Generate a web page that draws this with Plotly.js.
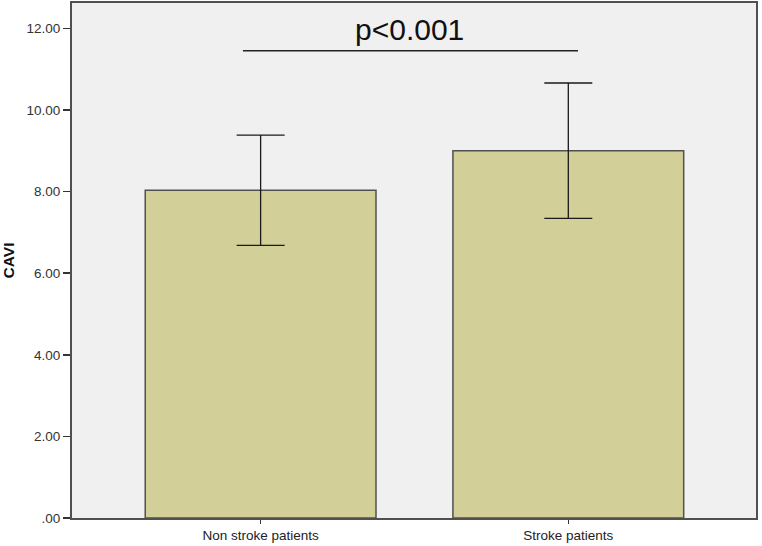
<!DOCTYPE html>
<html>
<head>
<meta charset="utf-8">
<script src="https://cdn.plot.ly/plotly-3.0.1.min.js"></script>
<style>html,body{margin:0;padding:0;background:#fff}#chart{width:762px;height:546px}</style>
</head>
<body>
<div id="chart"></div>
<script>
const categories = ["Non stroke patients", "Stroke patients"];
const meanCAVI = [8.03, 9.00];
const errCAVI = [1.35, 1.66];
const yTickVals = [0, 2, 4, 6, 8, 10, 12];
const yTickText = [".00", "2.00", "4.00", "6.00", "8.00", "10.00", "12.00"];
const pLabel = "p<0.001";

const trace = {
  type: "bar",
  x: [0, 1],
  y: meanCAVI,
  width: 0.75,
  marker: {color: "#d3cf98", line: {color: "#505050", width: 1.5}},
  error_y: {type: "data", array: errCAVI, visible: true, color: "#1a1a1a", thickness: 1.3, width: 24},
  hoverinfo: "skip"
};

const layout = {
  width: 762, height: 546,
  margin: {l: 72, r: 6, t: 3, b: 28},
  paper_bgcolor: "#ffffff",
  plot_bgcolor: "#f0f0f0",
  showlegend: false,
  font: {family: "Liberation Sans, Arial, sans-serif", color: "#222"},
  xaxis: {
    range: [-0.613, 1.61],
    tickvals: [0, 1], ticktext: categories,
    ticks: "outside", ticklen: 4, tickcolor: "#333", tickwidth: 1,
    showline: true, mirror: true, linecolor: "#505050", linewidth: 2,
    showgrid: false, zeroline: false,
    tickfont: {size: 13.5, color: "#222"}
  },
  yaxis: {
    range: [0, 12.62],
    tickvals: yTickVals, ticktext: yTickText,
    ticks: "outside", ticklen: 7, tickcolor: "#333", tickwidth: 1.5,
    showline: true, mirror: true, linecolor: "#505050", linewidth: 2,
    showgrid: false, zeroline: false,
    tickfont: {size: 13.5, color: "#333"},
    title: {text: "<b>CAVI</b>", font: {size: 15.5, color: "#111"}, standoff: 11}
  },
  shapes: [{
    type: "line", xref: "x", yref: "y",
    x0: -0.0575, x1: 1.0315, y0: 11.45, y1: 11.45,
    line: {color: "#222", width: 1.5}
  }],
  annotations: [{
    xref: "x", yref: "y", x: 0.485, y: 11.96,
    text: pLabel, showarrow: false,
    xanchor: "center", yanchor: "middle",
    font: {size: 30, color: "#111", family: "Liberation Sans, Arial, sans-serif"}
  }]
};

Plotly.newPlot("chart", [trace], layout, {displayModeBar: false, staticPlot: true});
</script>
</body>
</html>
